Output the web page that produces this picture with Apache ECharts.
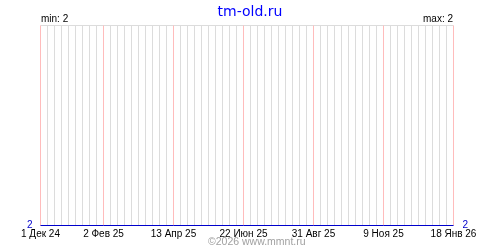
<!DOCTYPE html>
<html><head><meta charset="utf-8">
<script src="https://cdn.jsdelivr.net/npm/echarts@6/dist/echarts.min.js"></script>
<style>html,body{margin:0;padding:0;background:#fff}#c{width:500px;height:250px}</style>
</head><body><div id="c"></div>
<script>
// days since 1 Dec 2024
const labelDays = [0, 63, 133, 203, 273, 343, 413];
const tickLabels = ["1 Дек 24", "2 Фев 25", "13 Апр 25", "22 Июн 25", "31 Авг 25", "9 Ноя 25", "18 Янв 26"];
const values = [2, 2, 2, 2, 2, 2, 2];
const titleText = "tm-old.ru";
const minText = "min: 2";
const maxText = "max: 2";
const footerText = "©2026 www.mmnt.ru";

const FONT = "Liberation Sans";
const chart = echarts.init(document.getElementById('c'), null, {renderer: 'canvas'});
const labelMap = {};
labelDays.forEach((d, i) => labelMap[d] = tickLabels[i]);

const X_MIN = 0, X_MAX = 413, STEP = 7;
const gridColors = [];
for (let d = X_MIN; d <= X_MAX; d += STEP) gridColors.push(labelMap[d] !== undefined ? '#ffbcbc' : '#dcdcdc');

chart.setOption({
  animation: false,
  title: {
    text: titleText, left: 'center', top: 0,
    textStyle: {color: '#0000ff', fontFamily: 'DejaVu Sans', fontSize: 14, fontWeight: 'normal'}
  },
  graphic: [
    {type: 'text', left: 41, top: 14, style: {text: minText, fill: '#000', font: '10px "Liberation Sans"'}},
    {type: 'text', right: 47, top: 14, style: {text: maxText, fill: '#000', font: '10px "Liberation Sans"'}},
    {type: 'text', left: 208, top: 237, style: {text: footerText, fill: '#a0a0a0', font: '10.5px "Liberation Sans"'}}
  ],
  grid: {left: 40.5, right: 46.5, top: 25.5, bottom: 24.5, containLabel: false},
  xAxis: {
    type: 'value', min: X_MIN, max: X_MAX, interval: STEP,
    axisLine: {show: false}, axisTick: {show: false},
    axisLabel: {
      show: true, margin: 4, color: '#000', fontFamily: FONT, fontSize: 10,
      showMinLabel: true, showMaxLabel: true, hideOverlap: false,
      formatter: v => labelMap[v] || ''
    },
    splitLine: {show: true, showMinLine: true, showMaxLine: true, lineStyle: {color: gridColors, width: 1}}
  },
  yAxis: [
    {
      type: 'value', min: 2, max: 3, interval: 1, position: 'left',
      axisLine: {show: false}, axisTick: {show: false},
      axisLabel: {color: '#0000cc', fontFamily: FONT, fontSize: 10, margin: 8, formatter: v => v === 2 ? '2' : ''},
      splitLine: {show: true, lineStyle: {color: '#dcdcdc', width: 1}}
    },
    {
      type: 'value', min: 2, max: 3, interval: 1, position: 'right',
      axisLine: {show: false}, axisTick: {show: false},
      axisLabel: {color: '#0000cc', fontFamily: FONT, fontSize: 10, margin: 9, formatter: v => v === 2 ? '2' : ''},
      splitLine: {show: false}
    }
  ],
  series: [{
    type: 'line', yAxisIndex: 0,
    data: labelDays.map((d, i) => [d, values[i]]),
    symbol: 'none', silent: true,
    lineStyle: {color: '#0000cc', width: 1},
    z: 5
  }]
});
</script></body></html>
